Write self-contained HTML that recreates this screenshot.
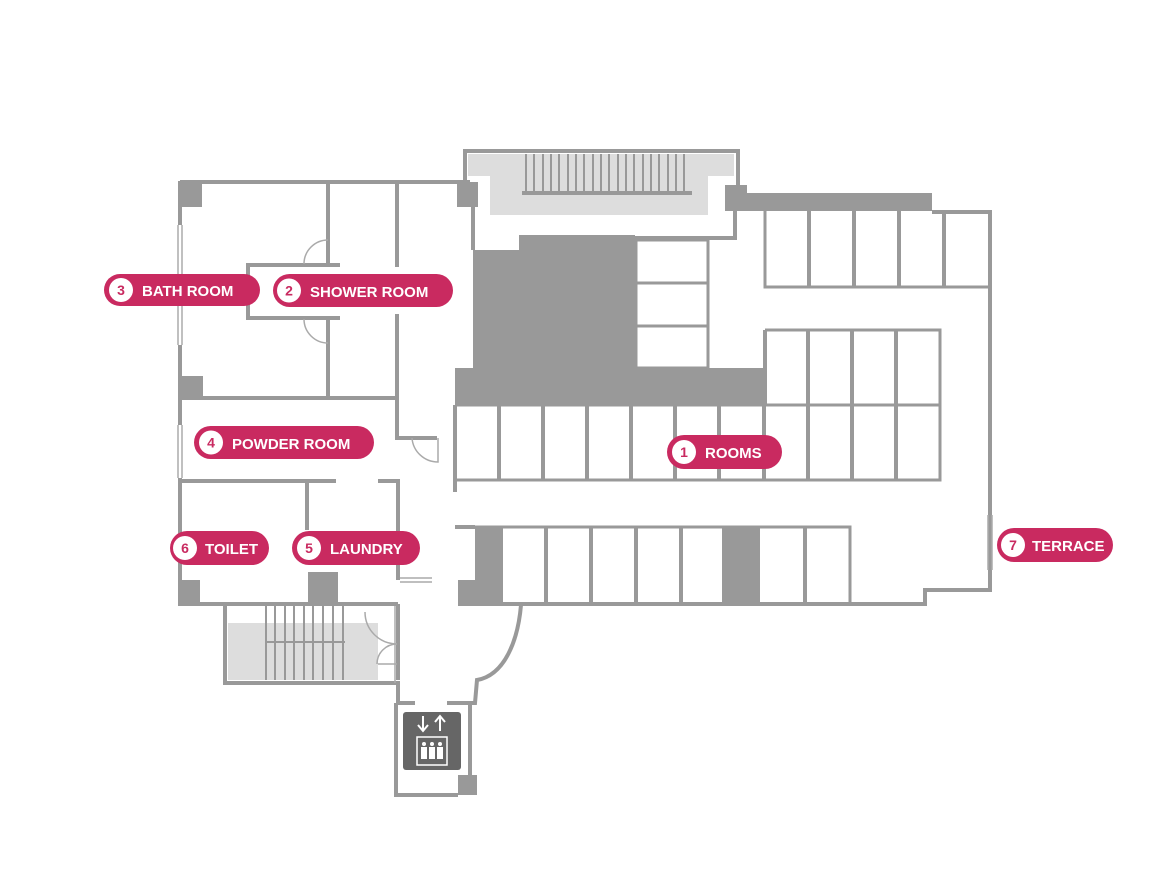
<!DOCTYPE html>
<html><head><meta charset="utf-8"><style>
html,body{margin:0;padding:0;background:#fff;}
svg{display:block}
.t{font-family:"Liberation Sans",sans-serif;font-weight:bold;font-size:15px;fill:#fff}
.n{font-family:"Liberation Sans",sans-serif;font-weight:bold;font-size:14px;fill:#c92a60}
</style></head><body>
<svg width="1160" height="880" viewBox="0 0 1160 880" xmlns="http://www.w3.org/2000/svg">
<g fill="#999" stroke="none">
<!-- top stair -->
<rect x="468" y="154" width="266" height="22" fill="#ddd"/>
<rect x="490" y="176" width="218" height="39" fill="#ddd"/>
</g>
<g stroke="#999" stroke-width="4" fill="none">
<polyline points="465,182 465,151 738,151 738,187"/>
<line x1="473" y1="207" x2="473" y2="250"/>
<polyline points="735,207 735,238 635,238"/>
<line x1="522" y1="193" x2="692" y2="193"/>
</g>
<g stroke="#999" stroke-width="2">
<line x1="526" y1="154" x2="526" y2="193"/><line x1="534" y1="154" x2="534" y2="193"/><line x1="543" y1="154" x2="543" y2="193"/><line x1="551" y1="154" x2="551" y2="193"/><line x1="559" y1="154" x2="559" y2="193"/><line x1="568" y1="154" x2="568" y2="193"/><line x1="576" y1="154" x2="576" y2="193"/><line x1="584" y1="154" x2="584" y2="193"/><line x1="593" y1="154" x2="593" y2="193"/><line x1="601" y1="154" x2="601" y2="193"/><line x1="609" y1="154" x2="609" y2="193"/><line x1="618" y1="154" x2="618" y2="193"/><line x1="626" y1="154" x2="626" y2="193"/><line x1="634" y1="154" x2="634" y2="193"/><line x1="643" y1="154" x2="643" y2="193"/><line x1="651" y1="154" x2="651" y2="193"/><line x1="659" y1="154" x2="659" y2="193"/><line x1="668" y1="154" x2="668" y2="193"/><line x1="676" y1="154" x2="676" y2="193"/><line x1="684" y1="154" x2="684" y2="193"/>
</g>
<g fill="#999">
<rect x="457" y="182" width="21" height="25"/>
<rect x="725" y="185" width="22" height="22"/>
<rect x="725" y="193" width="207" height="18"/>
<!-- dark core -->
<rect x="519" y="235" width="116" height="145"/>
<rect x="473" y="250" width="50" height="130"/>
<rect x="455" y="368" width="310" height="37"/>
<!-- left corners -->
<rect x="178" y="181" width="24" height="26"/>
<rect x="178" y="376" width="25" height="24"/>
<rect x="178" y="580" width="22" height="25"/>
<rect x="308" y="572" width="30" height="33"/>
<!-- bottom -->
<rect x="475" y="527" width="28" height="78"/>
<rect x="458" y="580" width="45" height="25"/>
<rect x="722" y="527" width="38" height="78"/>
<rect x="458" y="775" width="19" height="20"/>
</g>
<g stroke="#999" stroke-width="4" fill="none">
<!-- small rooms -->
<rect x="636" y="240" width="72" height="128" stroke-width="3"/>
<line x1="636" y1="283" x2="708" y2="283" stroke-width="3"/>
<line x1="636" y1="326" x2="708" y2="326" stroke-width="3"/>
<!-- outer right -->
<polyline points="932,212 990,212 990,590 925,590 925,604 458,604"/>
<!-- top right rooms -->
<polyline points="765,211 765,287 990,287" stroke-width="3"/>
<line x1="809" y1="211" x2="809" y2="287"/><line x1="854" y1="211" x2="854" y2="287"/><line x1="899" y1="211" x2="899" y2="287"/><line x1="944" y1="211" x2="944" y2="287"/>
<!-- middle blocks -->
<polyline points="765,330 940,330 940,480 455,480" stroke-width="3"/>
<line x1="765" y1="330" x2="765" y2="405"/>
<line x1="455" y1="405" x2="940" y2="405" stroke-width="3"/>
<line x1="808" y1="330" x2="808" y2="480"/><line x1="852" y1="330" x2="852" y2="480"/><line x1="896" y1="330" x2="896" y2="480"/>
<line x1="455" y1="405" x2="455" y2="492"/>
<line x1="499" y1="405" x2="499" y2="480"/><line x1="543" y1="405" x2="543" y2="480"/><line x1="587" y1="405" x2="587" y2="480"/><line x1="631" y1="405" x2="631" y2="480"/><line x1="675" y1="405" x2="675" y2="480"/><line x1="719" y1="405" x2="719" y2="480"/><line x1="764" y1="405" x2="764" y2="480"/>
<!-- bottom row -->
<polyline points="455,527 850,527 850,604" stroke-width="3"/>
<polyline points="455,527 475,527"/>
<line x1="546" y1="527" x2="546" y2="604"/><line x1="591" y1="527" x2="591" y2="604"/><line x1="636" y1="527" x2="636" y2="604"/><line x1="681" y1="527" x2="681" y2="604"/><line x1="805" y1="527" x2="805" y2="604"/>
<!-- left block -->
<polyline points="180,182 470,182"/>
<line x1="180" y1="182" x2="180" y2="225"/>
<line x1="180" y1="345" x2="180" y2="425"/>
<line x1="180" y1="478" x2="180" y2="604"/>
<polyline points="328,182 328,265 248,265 248,318 328,318 328,398"/>
<line x1="328" y1="265" x2="340" y2="265"/><line x1="328" y1="318" x2="340" y2="318"/>
<line x1="397" y1="182" x2="397" y2="267"/>
<polyline points="397,314 397,438 437,438"/>
<line x1="180" y1="398" x2="397" y2="398"/>
<line x1="473" y1="400" x2="473" y2="405"/>
<polyline points="178,481 336,481"/>
<polyline points="378,481 398,481 398,580"/>
<line x1="307" y1="481" x2="307" y2="530"/>
<line x1="178" y1="604" x2="398" y2="604"/>
<polyline points="225,604 225,683 398,683 398,703"/>
<!-- corridor -->
<line x1="398" y1="604" x2="398" y2="680"/>
<path d="M521,605 C518,640 505,675 477,680 L475,703 L447,703"/>
<line x1="398" y1="703" x2="415" y2="703"/>
<polyline points="396,703 396,795 458,795"/>
<line x1="470" y1="705" x2="470" y2="775"/>
</g>
<!-- thin lines / doors -->
<g stroke="#aaa" stroke-width="1.5" fill="none">
<line x1="182" y1="225" x2="182" y2="345"/><line x1="178" y1="225" x2="178" y2="345"/>
<line x1="182" y1="425" x2="182" y2="478"/><line x1="178" y1="425" x2="178" y2="478"/>
<line x1="988" y1="515" x2="988" y2="570"/><line x1="992" y1="515" x2="992" y2="570"/>
<path d="M328,240 A24,24 0 0 0 304,264"/>
<path d="M328,343 A24,24 0 0 1 304,319"/>
<path d="M412,438 A26,26 0 0 0 438,462 L438,438"/>
<line x1="400" y1="578" x2="432" y2="578"/><line x1="400" y1="582" x2="432" y2="582"/>
<rect x="228" y="623" width="150" height="57" fill="#ddd" stroke="none"/>
<path d="M365,612 A32,32 0 0 0 397,644"/>
<path d="M377,664 A20,20 0 0 1 397,644"/>
<line x1="378" y1="664" x2="397" y2="664"/>
<line x1="395" y1="606" x2="395" y2="683"/>
</g>
<g stroke="#999" stroke-width="2">
<line x1="266" y1="606" x2="266" y2="680"/><line x1="275" y1="606" x2="275" y2="680"/><line x1="285" y1="606" x2="285" y2="680"/><line x1="294" y1="606" x2="294" y2="680"/><line x1="304" y1="606" x2="304" y2="680"/><line x1="313" y1="606" x2="313" y2="680"/><line x1="323" y1="606" x2="323" y2="680"/><line x1="333" y1="606" x2="333" y2="680"/><line x1="343" y1="606" x2="343" y2="680"/>
<line x1="265" y1="642" x2="345" y2="642"/>
</g>
<!-- elevator icon -->
<rect x="403" y="712" width="58" height="58" rx="3" fill="#666"/>
<g stroke="#fff" stroke-width="2" fill="none">
<path d="M423,716 V730 M418,725 L423,731 L428,725"/>
<path d="M440,731 V717 M435,722 L440,716 L445,722"/>
<rect x="417" y="737" width="30" height="28" stroke-width="1.5"/>
</g>
<g fill="#fff">
<circle cx="424" cy="744" r="2"/><rect x="421" y="747" width="6" height="12"/>
<circle cx="432" cy="744" r="2"/><rect x="429" y="747" width="6" height="12"/>
<circle cx="440" cy="744" r="2"/><rect x="437" y="747" width="6" height="12"/>
</g>
<!-- labels -->
<g>
<rect x="104" y="274" width="156" height="32" rx="16" fill="#c92a60"/>
<circle cx="121" cy="290" r="12" fill="#fff"/><text x="121" y="295" text-anchor="middle" class="n">3</text>
<text x="142" y="296" class="t">BATH ROOM</text>

<rect x="273" y="274" width="180" height="33" rx="16.5" fill="#c92a60"/>
<circle cx="289" cy="290.5" r="12" fill="#fff"/><text x="289" y="295.5" text-anchor="middle" class="n">2</text>
<text x="310" y="297" class="t">SHOWER ROOM</text>

<rect x="194" y="426" width="180" height="33" rx="16.5" fill="#c92a60"/>
<circle cx="211" cy="442.5" r="12" fill="#fff"/><text x="211" y="447.5" text-anchor="middle" class="n">4</text>
<text x="232" y="449" class="t">POWDER ROOM</text>

<rect x="667" y="435" width="115" height="34" rx="17" fill="#c92a60"/>
<circle cx="684" cy="452" r="12" fill="#fff"/><text x="684" y="457" text-anchor="middle" class="n">1</text>
<text x="705" y="458" class="t">ROOMS</text>

<rect x="170" y="531" width="99" height="34" rx="17" fill="#c92a60"/>
<circle cx="185" cy="548" r="12" fill="#fff"/><text x="185" y="553" text-anchor="middle" class="n">6</text>
<text x="205" y="554" class="t">TOILET</text>

<rect x="292" y="531" width="128" height="34" rx="17" fill="#c92a60"/>
<circle cx="309" cy="548" r="12" fill="#fff"/><text x="309" y="553" text-anchor="middle" class="n">5</text>
<text x="330" y="554" class="t">LAUNDRY</text>

<rect x="997" y="528" width="116" height="34" rx="17" fill="#c92a60"/>
<circle cx="1013" cy="545" r="12" fill="#fff"/><text x="1013" y="550" text-anchor="middle" class="n">7</text>
<text x="1032" y="551" class="t">TERRACE</text>
</g>
</svg>
</body></html>
